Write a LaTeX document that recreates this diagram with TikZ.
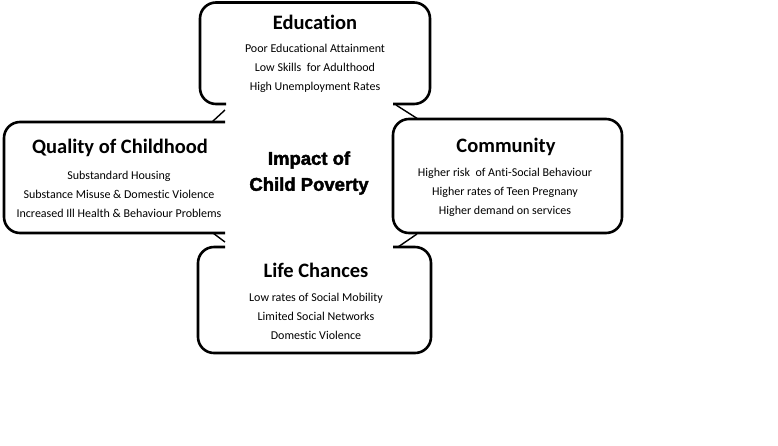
\documentclass[tikz,border=0pt]{standalone}
\usepackage{fontspec}
\setmainfont[Ligatures={NoCommon}]{Carlito}
\newfontfamily\impactfont[BoldFeatures={FakeBold=2.2}]{Liberation Sans}
\begin{document}
\begin{tikzpicture}[x=1pt,y=-1pt,
  box/.style={line width=2.6pt, rounded corners=16pt, line join=round},
  tail/.style={line width=1.4pt},
  title/.style={font=\bfseries\fontsize{20.5}{24}\selectfont, inner sep=0pt},
  body/.style={font=\fontsize{12}{19}\selectfont, align=center, inner sep=0pt},
  centre/.style={font=\impactfont\bfseries\fontsize{18.5}{26}\selectfont, align=center, inner sep=0pt}]
\useasboundingbox (0,0) rectangle (778,445);
% Education
\draw[box] (226,104) -- (200,104) -- (200,2.5) -- (430,2.5) -- (430,104) -- (393,104);
% Quality of Childhood
\draw[box] (225,122) -- (4,122) -- (4,233) -- (225,233);
% Community
\draw[box] (393,119) rectangle (622,233);
% Life Chances
\draw[box] (225,247) -- (198,247) -- (198,353) -- (431,353) -- (431,247) -- (393,247);
% junction tails
\coordinate (t1a) at (225,110); \coordinate (t1b) at (212,122);
\coordinate (t2a) at (396,105); \coordinate (t2b) at (418,119);
\coordinate (t3a) at (213,233); \coordinate (t3b) at (225,242);
\coordinate (t4a) at (398,247); \coordinate (t4b) at (417,234);
\draw[tail] (t1a) -- (t1b);
\draw[tail] (t2a) -- (t2b);
\draw[tail] (t3a) -- (t3b);
\draw[tail] (t4a) -- (t4b);
% texts
\node[title] (edu) at (315,22) {Education};
\node[body] (edut) at (315,68) {Poor Educational Attainment\\Low Skills\ \ for Adulthood\\High Unemployment Rates};
\node[title] (qoc) at (120,148) {Quality of Childhood};
\node[body] (qoct) at (119,194.5) {Substandard Housing\\Substance Misuse \& Domestic Violence\\Increased Ill Health \& Behaviour Problems};
\node[title] (com) at (506,147) {Community};
\node[body] (comt) at (505,192) {Higher risk\ \ of Anti-Social Behaviour\\Higher rates of Teen Pregnany\\Higher demand on services};
\node[title] (lc) at (316,270) {Life Chances};
\node[body] (lct) at (316,316) {Low rates of Social Mobility\\Limited Social Networks\\Domestic Violence};
\node[centre] (imp) at (309,173) {Impact of\\Child Poverty};
\end{tikzpicture}
\end{document}
